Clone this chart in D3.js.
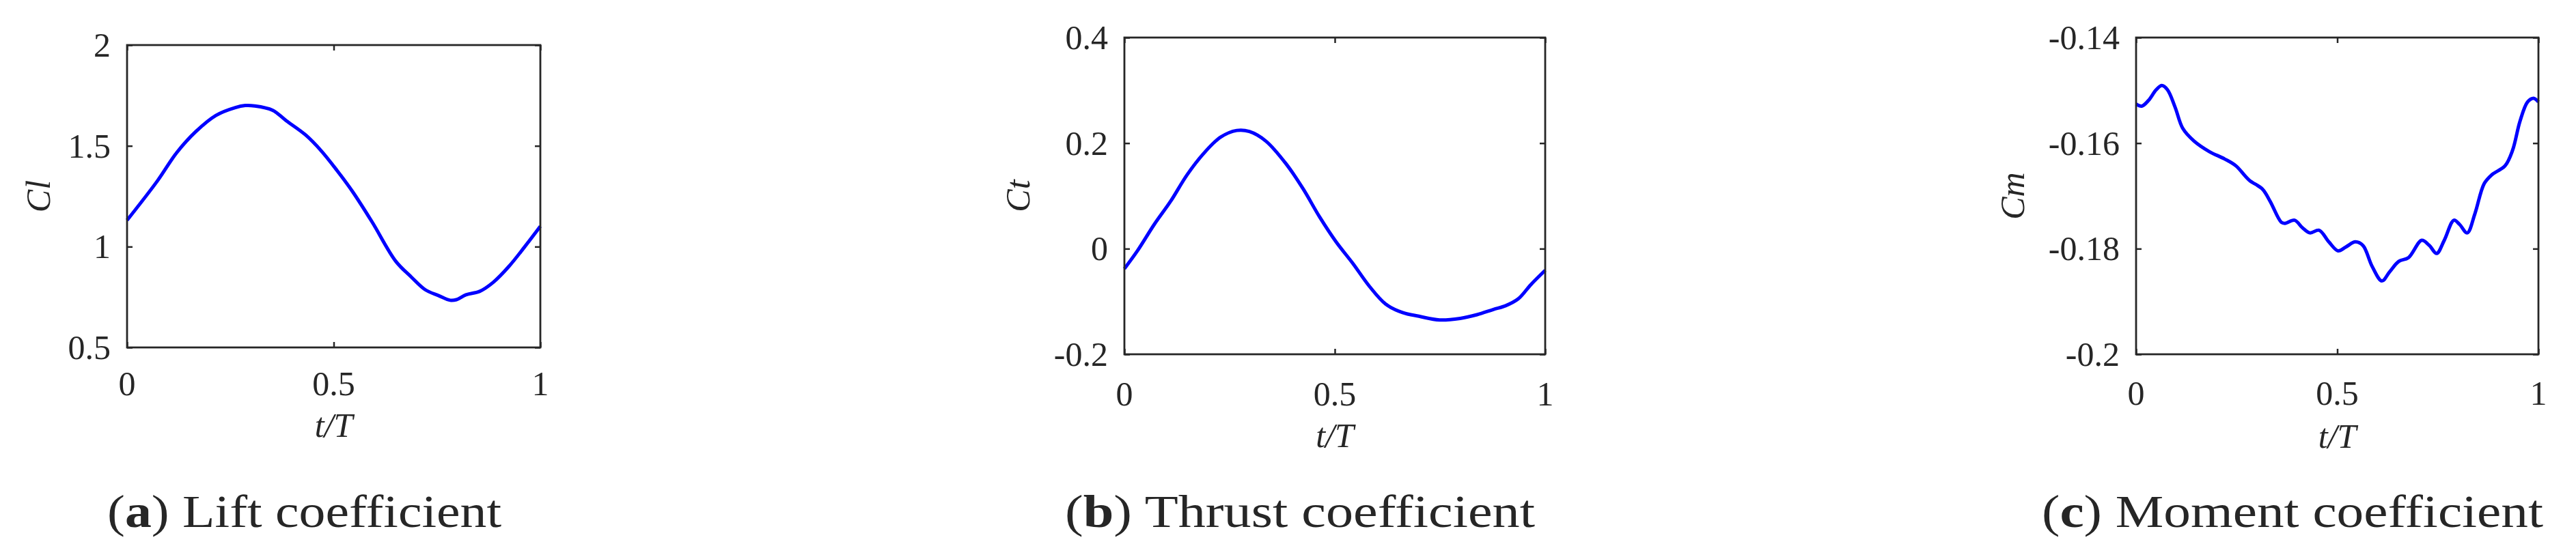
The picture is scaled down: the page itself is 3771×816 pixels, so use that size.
<!DOCTYPE html>
<html>
<head>
<meta charset="utf-8">
<script src="https://cdn.jsdelivr.net/npm/d3@7"></script>
<style>
  html, body { margin: 0; padding: 0; background: #fff; }
  svg text { font-family: "Liberation Serif", "Times New Roman", serif; fill: #262626; }
</style>
</head>
<body>
<div id="grafico"></div>
<script>
// Dados (t/T de 0 a 1)
const tCl = [0, 0.073, 0.12, 0.167, 0.215, 0.262, 0.286, 0.309, 0.352, 0.385, 0.432, 0.47, 0.508, 0.546, 0.593, 0.65, 0.688, 0.721, 0.754, 0.782, 0.797, 0.82, 0.853, 0.886, 0.924, 0.962, 1];
const cl  = [1.131, 1.325, 1.466, 1.572, 1.651, 1.690, 1.700, 1.698, 1.677, 1.625, 1.554, 1.475, 1.378, 1.272, 1.122, 0.928, 0.849, 0.787, 0.757, 0.734, 0.737, 0.761, 0.778, 0.823, 0.902, 0.999, 1.101];

const tCt = [0, 0.031, 0.071, 0.110, 0.149, 0.189, 0.228, 0.267, 0.297, 0.336, 0.385, 0.425, 0.464, 0.503, 0.543, 0.582, 0.621, 0.661, 0.700, 0.749, 0.798, 0.838, 0.877, 0.906, 0.936, 0.966, 1];
const ct  = [-0.038, -0.004, 0.046, 0.090, 0.140, 0.181, 0.211, 0.224, 0.222, 0.204, 0.160, 0.113, 0.060, 0.013, -0.028, -0.071, -0.105, -0.121, -0.128, -0.135, -0.132, -0.125, -0.115, -0.108, -0.095, -0.068, -0.041];

const tCm = [0, 0.014, 0.031, 0.050, 0.064, 0.078, 0.097, 0.116, 0.144, 0.182, 0.220, 0.248, 0.281, 0.314, 0.333, 0.361, 0.370, 0.394, 0.413, 0.432, 0.455, 0.479, 0.502, 0.521, 0.545, 0.564, 0.587, 0.611, 0.630, 0.653, 0.677, 0.710, 0.729, 0.747, 0.766, 0.790, 0.804, 0.823, 0.842, 0.865, 0.884, 0.917, 0.936, 0.954, 0.973, 0.988, 1];
const cm  = [-0.1526, -0.1530, -0.1519, -0.1499, -0.1491, -0.1499, -0.1532, -0.1572, -0.1596, -0.1616, -0.1630, -0.1643, -0.1670, -0.1687, -0.1710, -0.1750, -0.1752, -0.1746, -0.1760, -0.1770, -0.1765, -0.1787, -0.1804, -0.1797, -0.1787, -0.1794, -0.1834, -0.1861, -0.1844, -0.1824, -0.1817, -0.1784, -0.1794, -0.1809, -0.1784, -0.1746, -0.1754, -0.1770, -0.1734, -0.1677, -0.1660, -0.1643, -0.1613, -0.1559, -0.1522, -0.1515, -0.1522];

// Marcas dos eixos
const ticksX = [0, 0.5, 1];
const rotulosX = ["0", "0.5", "1"];
const ticksCl = [0.5, 1, 1.5, 2];
const rotulosCl = ["0.5", "1", "1.5", "2"];
const ticksCt = [-0.2, 0, 0.2, 0.4];
const rotulosCt = ["-0.2", "0", "0.2", "0.4"];
const ticksCm = [-0.2, -0.18, -0.16, -0.14];
const rotulosCm = ["-0.2", "-0.18", "-0.16", "-0.14"];

const largura = 3771, altura = 816;

const svg = d3.select("#grafico").append("svg")
    .attr("width", largura)
    .attr("height", altura);

svg.append("rect").attr("width", largura).attr("height", altura).attr("fill", "#fff");

// Configuração de cada painel
const paineis = [
    { t: tCl, v: cl, dominio: [0.5, 2], ticksY: ticksCl, rotulosY: rotulosCl,
      x0: 186, x1: 791, y0: 66, y1: 509, nome: "Cl", nomeX: 73, xlabY: 640, tickY: 579,
      letra: "a", legenda: " Lift coefficient", legX: 157, legW: 577 },
    { t: tCt, v: ct, dominio: [-0.2, 0.4], ticksY: ticksCt, rotulosY: rotulosCt,
      x0: 1646, x1: 2262, y0: 55, y1: 519, nome: "Ct", nomeX: 1507, xlabY: 655, tickY: 594,
      letra: "b", legenda: " Thrust coefficient", legX: 1559, legW: 688 },
    { t: tCm, v: cm, dominio: [-0.2, -0.14], ticksY: ticksCm, rotulosY: rotulosCm,
      x0: 3127, x1: 3716, y0: 55, y1: 519, nome: "Cm", nomeX: 2963, xlabY: 656, tickY: 593,
      letra: "c", legenda: " Moment coefficient", legX: 2989, legW: 734 }
];

const corEixo = "#262626";
const tam = 8;

paineis.forEach(p => {
    const eixoX = d3.scaleLinear().domain([0, 1]).range([p.x0, p.x1]);
    const eixoY = d3.scaleLinear().domain(p.dominio).range([p.y1, p.y0]);
    const g = svg.append("g");

    // Curva
    const linha = d3.line()
        .x((d, i) => eixoX(p.t[i]))
        .y(d => eixoY(d))
        .curve(d3.curveCatmullRom.alpha(0.5));
    g.append("path")
        .datum(p.v)
        .attr("d", linha)
        .attr("fill", "none")
        .attr("stroke", "#0000ff")
        .attr("stroke-width", 5)
        .attr("stroke-linejoin", "round");

    // Eixos (ticks para dentro, estilo MATLAB)
    const ax = (gen, tr, vals) => g.append("g")
        .attr("transform", tr)
        .call(gen.tickValues(vals).tickSize(tam).tickFormat(""))
        .call(s => s.select(".domain").remove())
        .call(s => s.selectAll("line").attr("stroke", corEixo).attr("stroke-width", 2.5));

    ax(d3.axisTop(eixoX), `translate(0,${p.y1})`, ticksX);
    ax(d3.axisBottom(eixoX), `translate(0,${p.y0})`, ticksX);
    ax(d3.axisRight(eixoY), `translate(${p.x0},0)`, p.ticksY);
    ax(d3.axisLeft(eixoY), `translate(${p.x1},0)`, p.ticksY);

    g.append("rect")
        .attr("x", p.x0).attr("y", p.y0)
        .attr("width", p.x1 - p.x0).attr("height", p.y1 - p.y0)
        .attr("fill", "none").attr("stroke", corEixo).attr("stroke-width", 2.8);

    // Rótulos das marcas
    g.selectAll(".rx").data(ticksX).join("text")
        .attr("x", d => eixoX(d)).attr("y", p.tickY)
        .attr("text-anchor", "middle").attr("font-size", 50)
        .text((d, i) => rotulosX[i]);
    g.selectAll(".ry").data(p.ticksY).join("text")
        .attr("x", p.x0 - 24).attr("y", d => eixoY(d))
        .attr("dy", "0.34em")
        .attr("text-anchor", "end").attr("font-size", 50)
        .text((d, i) => p.rotulosY[i]);

    // Títulos dos eixos
    g.append("text")
        .attr("x", (p.x0 + p.x1) / 2).attr("y", p.xlabY)
        .attr("text-anchor", "middle").attr("font-size", 50).attr("font-style", "italic")
        .text("t/T");
    g.append("text")
        .attr("transform", `translate(${p.nomeX},${(p.y0 + p.y1) / 2}) rotate(-90)`)
        .attr("text-anchor", "middle").attr("font-size", 50).attr("font-style", "italic")
        .text(p.nome);

    // Legenda do subpainel
    const leg = svg.append("text")
        .attr("x", p.legX).attr("y", 772)
        .attr("font-size", 68)
        .attr("fill", "#000")
        .attr("textLength", p.legW)
        .attr("lengthAdjust", "spacingAndGlyphs");
    leg.append("tspan").text("(");
    leg.append("tspan").attr("font-weight", "bold").text(p.letra);
    leg.append("tspan").text(")" + p.legenda);
});
</script>
</body>
</html>
